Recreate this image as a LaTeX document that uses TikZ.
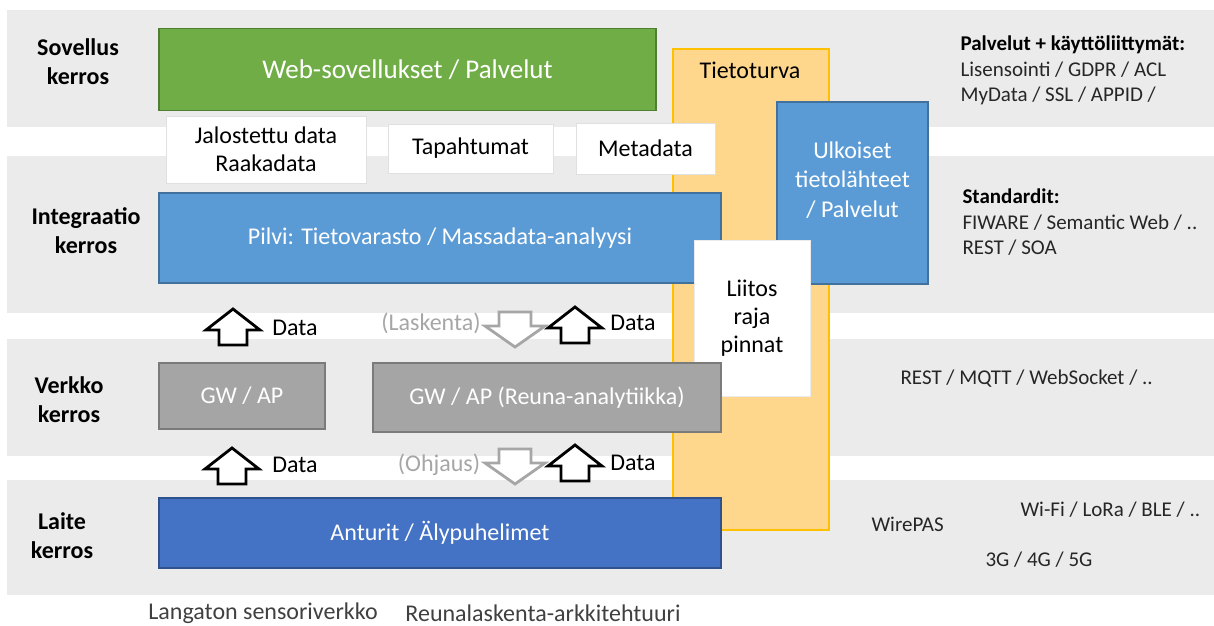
\documentclass[tikz,border=0pt]{standalone}
\usepackage{fontspec}
\setmainfont{Carlito}
\usepackage{tikz}
\usetikzlibrary{calc}

\definecolor{bandgray}{HTML}{EBEBEB}
\definecolor{appgreen}{HTML}{70AD47}
\definecolor{appgreenline}{HTML}{507E32}
\definecolor{cloudblue}{HTML}{5B9BD5}
\definecolor{cloudblueline}{HTML}{41719C}
\definecolor{devblue}{HTML}{4472C4}
\definecolor{devblueline}{HTML}{2F528F}
\definecolor{gwgray}{HTML}{A5A5A5}
\definecolor{gwgrayline}{HTML}{7B7B7B}
\definecolor{secyellow}{HTML}{FFD78C}
\definecolor{secline}{HTML}{FFC000}
\definecolor{softtext}{HTML}{A6A6A6}
\definecolor{sidetext}{HTML}{262626}

\tikzset{
  dataup/.pic={\draw[black,line width=2.8pt,fill=white] (-14,18) -- (-14,3) -- (-27,3) -- (0,-18) -- (27,3) -- (14,3) -- (14,18) -- cycle;},
  ctrldown/.pic={\draw[softtext,line width=2.8pt,fill=white] (-16,-18) -- (-16,-4) -- (-30,-4) -- (0,17) -- (30,-4) -- (16,-4) -- (16,-18) -- cycle;}
}

\begin{document}
\begin{tikzpicture}[x=1pt,y=-1pt,
  layerbox/.style={draw,line width=1.5pt,text=white,inner sep=0pt,outer sep=0pt,font=\fontsize{24}{29}\selectfont},
  tagbox/.style={draw=black!12,line width=0.8pt,fill=white,inner sep=0pt,outer sep=0pt,align=center,font=\fontsize{24}{28}\selectfont},
  layername/.style={align=center,font=\bfseries\fontsize{24}{29}\selectfont},
  side/.style={align=left,text=sidetext,font=\fontsize{21}{25.5}\selectfont},
  lbl/.style={font=\fontsize{24}{29}\selectfont}]
\useasboundingbox (0,0) rectangle (1214,625);

%% layer bands
\foreach \top/\bot in {10/127,156/313,339/456,480/595}
   \fill[bandgray] (7,\top) rectangle (1214,\bot);

%% security column
\node[draw=secline,fill=secyellow,line width=2.5pt,minimum width=156,minimum height=481,inner sep=0pt] (sec) at (751,289.5) {};
\node[lbl] (sectext) at (750,70) {Tietoturva};

%% application layer
\node[layerbox,fill=appgreen,draw=appgreenline,minimum width=497,minimum height=82,font=\fontsize{27}{32}\selectfont] (web) at (407.5,69.5) {Web-sovellukset / Palvelut};
\node[layername] (lapp) at (78,61.5) {Sovellus\\kerros};

%% data passed between layers
\node[tagbox,minimum width=200,minimum height=67] (refined) at (266,149.5) {Jalostettu data\\Raakadata};
\node[tagbox,minimum width=165,minimum height=49] (events) at (470.5,148.5) {Tapahtumat};
\node[tagbox,minimum width=139,minimum height=51] (meta) at (645.5,148.5) {Metadata};

%% integration layer
\node[layerbox,fill=cloudblue,draw=cloudblueline,minimum width=562,minimum height=90] (cloud) at (440,238) {Pilvi: Tietovarasto / Massadata-analyysi};
\node[layername] (lint) at (86,230.5) {Integraatio\\kerros};
\node[layerbox,fill=cloudblue,draw=cloudblueline,minimum width=151,minimum height=182] (ext) at (852.5,193) {};
\node[align=center,text=white,font=\fontsize{24}{29.5}\selectfont] (exttext) at (852.5,180) {Ulkoiset\\tietolähteet\\/ Palvelut};
\node[tagbox,draw=black!8,minimum width=116,minimum height=156] (iface) at (752,318) {Liitos\\raja\\pinnat};

%% network layer
\node[layerbox,fill=gwgray,draw=gwgrayline,minimum width=166,minimum height=66] (gw) at (242,396) {GW / AP};
\node[layerbox,fill=gwgray,draw=gwgrayline,minimum width=348,minimum height=69] (edge) at (547,397.5) {GW / AP (Reuna-analytiikka)};
\node[layername] (lnet) at (69,400) {Verkko\\kerros};

%% device layer
\node[layerbox,fill=devblue,draw=devblueline,minimum width=562,minimum height=70] (dev) at (440,533) {Anturit / Älypuhelimet};
\node[layername] (ldev) at (62,535.5) {Laite\\kerros};

%% data flows up, control flows down
\foreach \ax/\ay in {233/327,232/466,575/325,575/463}
   \pic at (\ax,\ay) {dataup};
\foreach \ax/\ay in {515/330,515/467}
   \pic at (\ax,\ay) {ctrldown};
\foreach \i/\dx/\dy in {1/295/328,2/295/465,3/633/323,4/633/463}
   \node[lbl] (data\i) at (\dx,\dy) {Data};
\node[lbl,text=softtext] (calc) at (431,323) {(Laskenta)};
\node[lbl,text=softtext] (ctrl) at (439,465) {(Ohjaus)};

%% protocols and standards
\node[side,anchor=west] (svc) at (957,70.5) {\textbf{\color{black}Palvelut + käyttöliittymät:}\\Lisensointi / GDPR / ACL\\MyData / SSL / APPID /};
\node[side,anchor=west] (std) at (959,222.5) {\textbf{\color{black}Standardit:}\\FIWARE / Semantic Web / ..\\REST / SOA};
\node[side,anchor=west] (proto) at (897,379) {REST / MQTT / WebSocket / ..};
\node[side,anchor=west] (wpas) at (868,524) {WirePAS};
\node[side,anchor=west] (radio) at (1017,510) {Wi-Fi / LoRa / BLE / ..};
\node[side,anchor=west] (cell) at (982,560) {3G / 4G / 5G};

%% architectures
\node[lbl,text=black!75] (wsn) at (263,613) {Langaton sensoriverkko};
\node[lbl,text=black!75] (eca) at (543,613) {Reunalaskenta-arkkitehtuuri};
\end{tikzpicture}
\end{document}
